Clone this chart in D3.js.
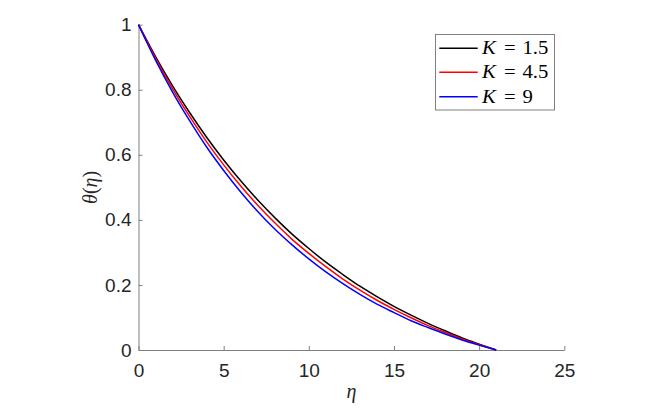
<!DOCTYPE html>
<html>
<head>
<meta charset="utf-8">
<script src="https://cdn.jsdelivr.net/npm/d3@7"></script>
<style>
  body { margin: 0; background: #fff; }
  .tick text { font-family: "Liberation Sans", Arial, sans-serif; font-size: 19px; fill: #262626; }
</style>
</head>
<body>
<svg id="vis" width="667" height="415"></svg>
<script>
'use strict';

// eta sample points
var eta = [0, 1, 2, 3, 4, 5, 6, 7, 8, 9, 10, 11, 12, 13, 14, 15, 16, 17, 18, 19, 20, 21];

// theta(eta), one list per K
var thetaK15 = [1, 0.902, 0.812, 0.730, 0.654, 0.584, 0.520, 0.461, 0.407, 0.357, 0.312,
    0.270, 0.232, 0.196, 0.164, 0.134, 0.107, 0.082, 0.059, 0.037, 0.018, 0];
var thetaK45 = [1, 0.897, 0.803, 0.718, 0.640, 0.569, 0.504, 0.445, 0.391, 0.341, 0.297,
    0.256, 0.218, 0.184, 0.153, 0.125, 0.099, 0.075, 0.054, 0.034, 0.016, 0];
var thetaK9 = [1, 0.891, 0.793, 0.705, 0.624, 0.552, 0.486, 0.426, 0.372, 0.324, 0.280,
    0.240, 0.204, 0.171, 0.141, 0.115, 0.090, 0.069, 0.049, 0.031, 0.015, 0];

var kLabels = ['1.5', '4.5', '9'];
var colors = ['#000000', '#ff0000', '#0000ff'];
var xTicks = [0, 5, 10, 15, 20, 25];
var yTicks = [0, 0.2, 0.4, 0.6, 0.8, 1];

(function () {
    var series = [thetaK15, thetaK45, thetaK9];

    var svg = d3.select('#vis');
    var plotLeft = 138.5, plotRight = 564.3, plotTop = 24.7, plotBottom = 350;

    var x = d3.scaleLinear().domain([0, 25]).range([plotLeft, plotRight]);
    var y = d3.scaleLinear().domain([0, 1]).range([plotBottom, plotTop]);

    //axes, MATLAB style ticks pointing inwards
    var xAxis = svg.append('g')
        .attr('transform', 'translate(0,' + plotBottom + ')')
        .call(d3.axisBottom(x).tickValues(xTicks).tickSizeInner(-4).tickSizeOuter(0).tickPadding(13.5));
    var yAxis = svg.append('g')
        .attr('transform', 'translate(' + plotLeft + ',0)')
        .call(d3.axisLeft(y).tickValues(yTicks).tickSizeInner(-4).tickSizeOuter(0).tickPadding(7)
            .tickFormat(function (d) { return String(d); }));

    [xAxis, yAxis].forEach(function (a) {
        a.select('.domain').attr('stroke', '#808080').attr('stroke-width', 1);
        a.selectAll('.tick line').attr('stroke', '#808080');
    });

    //curves
    var line = d3.line()
        .x(function (d, i) { return x(eta[i]); })
        .y(function (d) { return y(d); })
        .curve(d3.curveMonotoneX);

    svg.append('g').selectAll('path')
        .data(series)
        .enter().append('path')
        .attr('d', line)
        .attr('fill', 'none')
        .attr('stroke', function (d, i) { return colors[i]; })
        .attr('stroke-width', 1.5);

    //axis labels
    var serif = '"Liberation Serif", "DejaVu Serif", serif';
    svg.append('text')
        .attr('x', x(12.5))
        .attr('y', 398)
        .attr('text-anchor', 'middle')
        .style('font-family', serif)
        .style('font-style', 'italic')
        .style('font-size', '20px')
        .attr('fill', '#262626')
        .text('η');

    svg.append('text')
        .attr('transform', 'translate(97,' + y(0.5) + ') rotate(-90)')
        .attr('text-anchor', 'middle')
        .style('font-family', serif)
        .style('font-size', '20px')
        .attr('fill', '#262626')
        .html('<tspan font-style="italic">θ</tspan>(<tspan font-style="italic">η</tspan>)');

    //legend
    var legend = svg.append('g');
    legend.append('rect')
        .attr('x', 435.5).attr('y', 34.5)
        .attr('width', 119).attr('height', 75.5)
        .attr('fill', '#fff')
        .attr('stroke', '#808080');

    var rowY = [48.3, 72.3, 96.7];
    //K, '=' and value each placed separately, stretched a bit like the picture
    function legendText(px, py, str, italic) {
        legend.append('text')
            .attr('transform', 'translate(' + px + ',' + py + ') scale(1.12,1)')
            .style('font-family', serif)
            .style('font-style', italic ? 'italic' : 'normal')
            .style('font-size', '18.5px')
            .attr('fill', '#000')
            .text(str);
    }
    kLabels.forEach(function (k, i) {
        legend.append('line')
            .attr('x1', 439.3).attr('x2', 477.7)
            .attr('y1', rowY[i]).attr('y2', rowY[i])
            .attr('stroke', colors[i])
            .attr('stroke-width', 1.5);
        var base = rowY[i] + 6;
        legendText(482, base, 'K', true);
        legendText(504, base, '=', false);
        legendText(522.5, base, k, false);
    });
})();
</script>
</body>
</html>
